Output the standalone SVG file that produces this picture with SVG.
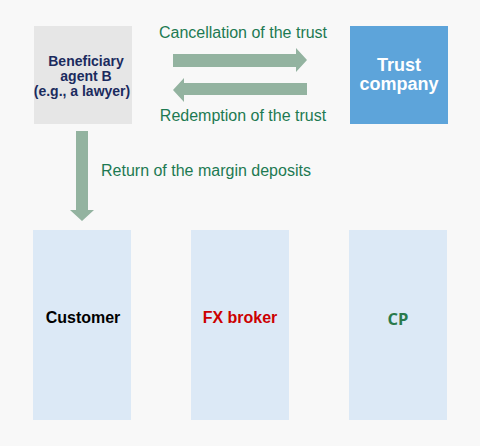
<svg xmlns="http://www.w3.org/2000/svg" width="480" height="446" viewBox="0 0 480 446">
<style>
.lbl{font-family:"Liberation Sans",Arial,sans-serif;font-size:16px;fill:#1d7a52}
.b{font-family:"Liberation Sans",Arial,sans-serif;font-weight:bold;text-anchor:middle}
.arr{fill:#93b3a0}
.col{fill:#dce9f6}
</style>
<rect x="0" y="0" width="480" height="446" fill="#f8f8f8"/>
<g id="beneficiary">
<rect x="34" y="26" width="98" height="98" fill="#e6e6e6"/>
<text class="b" font-size="14" fill="#1b2b5e"><tspan x="86" y="66">Beneficiary</tspan><tspan x="86" y="81">agent B</tspan><tspan x="82" y="96">(e.g., a lawyer)</tspan></text>
</g>
<g id="trust">
<rect x="350" y="26" width="98" height="98" fill="#5da4da"/>
<text class="b" font-size="18" fill="#ffffff"><tspan x="399" y="71">Trust</tspan><tspan x="399" y="90">company</tspan></text>
</g>
<g id="customer">
<rect class="col" x="33" y="230" width="98" height="190"/>
<text class="b" font-size="16" fill="#000000" x="83" y="323">Customer</text>
</g>
<g id="fxbroker">
<rect class="col" x="191" y="230" width="98" height="190"/>
<text class="b" font-size="16" fill="#cc0000" x="240" y="323">FX broker</text>
</g>
<g id="cp">
<rect class="col" x="349" y="230" width="98" height="190"/>
<text class="b" font-size="16.5" fill="#2a7a4c" x="398" y="325" style="font-family:'Open Sans','Noto Sans',sans-serif">CP</text>
</g>
<g id="connectors">
<polygon class="arr" points="173,54 296,54 296,48 307,60 296,72 296,67 173,67"/>
<polygon class="arr" points="307,83 184,83 184,78 173,90 184,102 184,95 307,95"/>
<polygon class="arr" points="76,131 88,131 88,210 94,210 82,221 70,210 76,210"/>
<text class="lbl" x="243" y="38" text-anchor="middle">Cancellation of the trust</text>
<text class="lbl" x="243" y="121" text-anchor="middle">Redemption of the trust</text>
<text class="lbl" x="101" y="176">Return of the margin deposits</text>
</g>
</svg>
